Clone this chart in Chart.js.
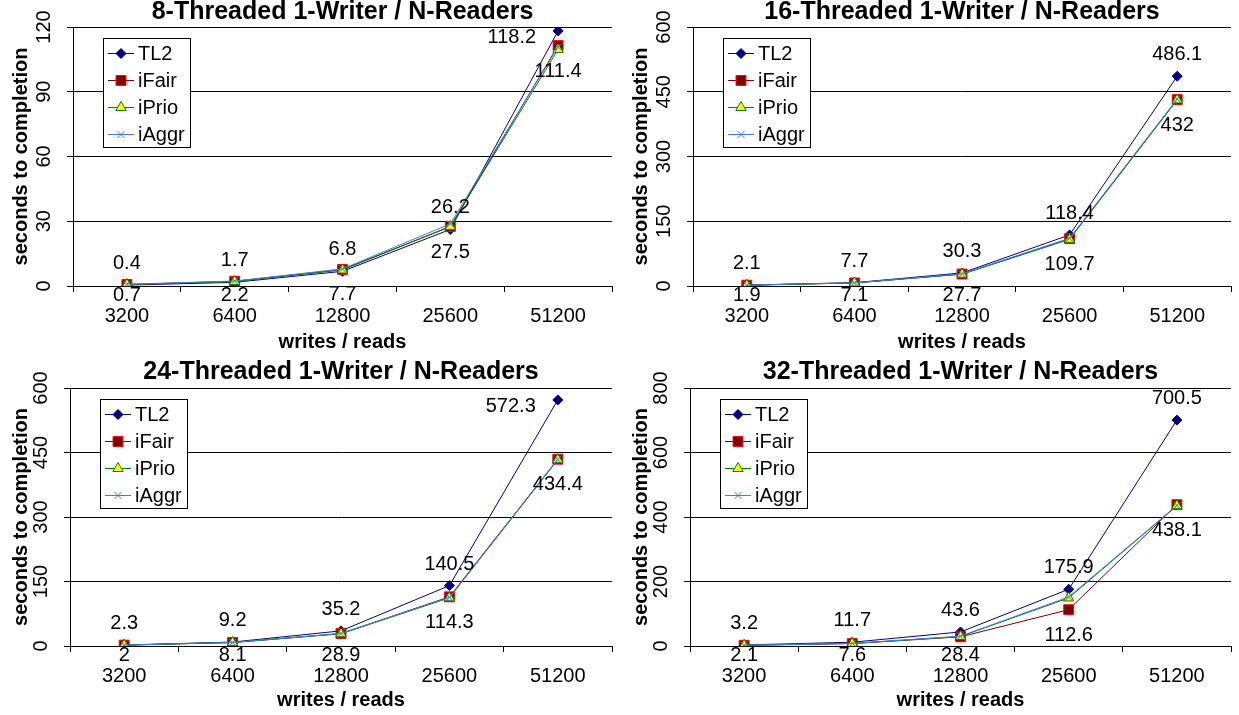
<!DOCTYPE html>
<html>
<head>
<meta charset="utf-8">
<script src="https://cdn.jsdelivr.net/npm/chart.js@4.4.1/dist/chart.umd.min.js"></script>
<style>
  html, body { margin: 0; padding: 0; background: #fff; }
  #wrap { position: relative; width: 1239px; height: 715px; overflow: hidden; }
  #wrap canvas { position: absolute; }
</style>
</head>
<body>
<div id="wrap">
  <canvas id="c8" width="620" height="357" style="left:0;top:0"></canvas>
  <canvas id="c16" width="619" height="357" style="left:620px;top:0"></canvas>
  <canvas id="c24" width="620" height="357" style="left:0;top:358px"></canvas>
  <canvas id="c32" width="619" height="357" style="left:620px;top:358px"></canvas>
</div>
<script>
// x categories (writes / reads)
var categories = ["3200", "6400", "12800", "25600", "51200"];
var seriesNames = ["TL2", "iFair", "iPrio", "iAggr"];

// 8 threads
var tl2_8   = [0.4, 1.7, 6.8, 26.2, 118.2];
var fair_8  = [0.7, 2.2, 7.7, 27.5, 111.4];
var prio_8  = [0.7, 2.1, 7.4, 27.6, 109.6];
var aggr_8  = [0.8, 2.3, 7.9, 28.8, 110.8];

// 16 threads
var tl2_16  = [2.1, 7.7, 30.3, 118.4, 486.1];
var fair_16 = [1.9, 7.1, 27.7, 109.7, 432];
var prio_16 = [1.9, 7.0, 27.3, 108.0, 431];
var aggr_16 = [2.0, 7.3, 28.2, 110.5, 433];

// 24 threads
var tl2_24  = [2.3, 9.2, 35.2, 140.5, 572.3];
var fair_24 = [2, 8.1, 28.9, 114.3, 434.4];
var prio_24 = [2.0, 8.0, 28.4, 112.0, 433];
var aggr_24 = [2.1, 8.3, 29.2, 113.0, 434];

// 32 threads
var tl2_32  = [3.2, 11.7, 43.6, 175.9, 700.5];
var fair_32 = [2.1, 7.6, 28.4, 112.6, 438.1];
var prio_32 = [2.2, 7.9, 29.5, 149.0, 435];
var aggr_32 = [2.3, 8.2, 30.5, 152.0, 436];

// y axis ranges (max, step)
var yMax  = [120, 600, 600, 800];
var yStep = [30, 150, 150, 200];

Chart.defaults.font.family = "'Liberation Sans', Arial, sans-serif";
Chart.defaults.color = '#000';

var FONT = "'Liberation Sans', Arial, sans-serif";

var styles = [
  { line: '#000080', fill: '#000080', edge: '#000080', shape: 'rectRot', r: 5 },
  { line: '#800000', fill: '#800000', edge: '#ff0000', shape: 'rect', r: 7 },
  { line: '#008000', fill: '#ffff00', edge: '#008000', shape: 'triangle', r: 6 },
  { line: '#3c7fe0', fill: 'rgba(0,0,0,0)', edge: '#3c7fe0', shape: 'crossRot', r: 5 }
];

// TL2 values above, iFair values below
var valueLabels = {
  id: 'valueLabels',
  afterDatasetsDraw: function(chart) {
    var ctx = chart.ctx, a = chart.chartArea;
    ctx.save();
    ctx.font = '20px ' + FONT;
    ctx.fillStyle = '#000';
    ctx.textBaseline = 'alphabetic';
    chart.getDatasetMeta(0).data.forEach(function(pt, i) {
      var txt = String(chart.data.datasets[0].data[i]);
      if (pt.y - 16 - 15 < a.top) {
        ctx.textAlign = 'right';
        ctx.fillText(txt, pt.x - 22, pt.y + 12);
      } else {
        ctx.textAlign = 'center';
        ctx.fillText(txt, pt.x, pt.y - 16);
      }
    });
    chart.getDatasetMeta(1).data.forEach(function(pt, i) {
      var txt = String(chart.data.datasets[1].data[i]);
      var top = Math.min(pt.y + 17, a.bottom + 1);
      ctx.textAlign = 'center';
      ctx.fillText(txt, pt.x, top + 14);
    });
    ctx.restore();
  }
};

// boxed legend inside plot area
var boxLegend = {
  id: 'boxLegend',
  afterDraw: function(chart) {
    var ctx = chart.ctx, a = chart.chartArea;
    var x0 = Math.round(a.left) + 30, y0 = Math.round(a.top) + 11, w = 87, h = 109;
    ctx.save();
    ctx.fillStyle = '#fff';
    ctx.fillRect(x0, y0, w, h);
    ctx.strokeStyle = '#000';
    ctx.lineWidth = 1;
    ctx.strokeRect(x0 + 0.5, y0 + 0.5, w, h);
    chart.data.datasets.forEach(function(ds, i) {
      var cy = y0 + 15 + i * 27;
      ctx.strokeStyle = ds.borderColor;
      ctx.lineWidth = ds.borderWidth;
      ctx.beginPath();
      ctx.moveTo(x0 + 5, cy + 0.5);
      ctx.lineTo(x0 + 31, cy + 0.5);
      ctx.stroke();
      ctx.fillStyle = ds.pointBackgroundColor;
      ctx.strokeStyle = ds.pointBorderColor;
      ctx.lineWidth = ds.pointBorderWidth;
      if (Chart.helpers && Chart.helpers.drawPoint) {
        Chart.helpers.drawPoint(ctx, { pointStyle: ds.pointStyle, radius: ds.pointRadius, borderWidth: ds.pointBorderWidth, rotation: 0 }, x0 + 18, cy + 0.5);
      }
      ctx.fillStyle = '#000';
      ctx.font = '20px ' + FONT;
      ctx.textAlign = 'left';
      ctx.textBaseline = 'middle';
      ctx.fillText(ds.label, x0 + 35, cy + 1);
    });
    ctx.restore();
  }
};

function makeChart(id, title, series, max, step, axisW, xH, tPadTop, tPadBot) {
  var datasets = series.map(function(vals, i) {
    var s = styles[i];
    return {
      label: seriesNames[i],
      data: vals,
      borderColor: s.line,
      borderWidth: 1,
      pointStyle: s.shape,
      pointRadius: s.r,
      pointBackgroundColor: s.fill,
      pointBorderColor: s.edge,
      pointBorderWidth: 1,
      tension: 0,
      order: 4 - i
    };
  });
  return new Chart(document.getElementById(id).getContext('2d'), {
    type: 'line',
    data: { labels: categories, datasets: datasets },
    options: {
      responsive: false,
      animation: false,
      devicePixelRatio: 1,
      layout: { padding: 0 },
      plugins: {
        legend: { display: false },
        tooltip: { enabled: false },
        title: {
          display: true,
          text: title,
          fullSize: false,
          color: '#000',
          font: { size: 25, weight: 'bold', family: FONT, lineHeight: 1 },
          padding: { top: tPadTop, bottom: tPadBot }
        }
      },
      scales: {
        x: {
          offset: true,
          grid: { offset: true, drawOnChartArea: false, tickLength: 6, color: '#000' },
          border: { color: '#000' },
          ticks: { font: { size: 20 }, padding: 12, color: '#000', maxRotation: 0 },
          title: { display: true, text: 'writes / reads', color: '#000', font: { size: 20, weight: 'bold', family: FONT }, padding: { top: 0, bottom: 3 } },
          afterFit: function(s) { s.height = xH; }
        },
        y: {
          min: 0,
          max: max,
          grid: { color: '#000', tickLength: 6 },
          border: { color: '#000' },
          ticks: { stepSize: step, minRotation: 90, maxRotation: 90, crossAlign: 'center', padding: 6, font: { size: 20 }, color: '#000' },
          title: { display: true, text: 'seconds to completion', color: '#000', font: { size: 20, weight: 'bold', family: FONT }, padding: { top: 9, bottom: 0 } },
          afterFit: function(s) { s.width = axisW; }
        }
      }
    },
    plugins: [valueLabels, boxLegend]
  });
}

makeChart('c8', '8-Threaded 1-Writer / N-Readers', [tl2_8, fair_8, prio_8, aggr_8], yMax[0], yStep[0], 73, 71, 0, 2);
makeChart('c16', '16-Threaded 1-Writer / N-Readers', [tl2_16, fair_16, prio_16, aggr_16], yMax[1], yStep[1], 73, 71, 0, 2);
makeChart('c24', '24-Threaded 1-Writer / N-Readers', [tl2_24, fair_24, prio_24, aggr_24], yMax[2], yStep[2], 70, 69, 2, 3);
makeChart('c32', '32-Threaded 1-Writer / N-Readers', [tl2_32, fair_32, prio_32, aggr_32], yMax[3], yStep[3], 70, 69, 2, 3);
</script>
</body>
</html>
